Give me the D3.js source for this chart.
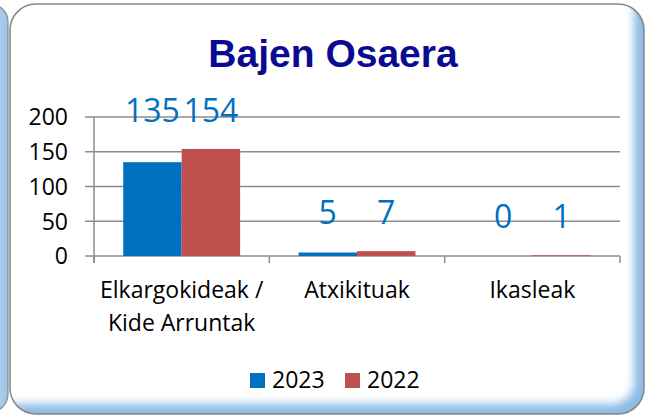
<!DOCTYPE html>
<html lang="eu">
<head>
<meta charset="UTF-8">
<title>Bajen Osaera</title>
<script src="https://d3js.org/d3.v7.min.js"></script>
<style>
    body { margin: 0; background: #fff; }
    svg { display: block; }
    text { font-family: "Open Sans", "Liberation Sans", sans-serif; }
</style>
</head>
<body>
<svg id="chart"></svg>
<script>
    // data
    const categories = ["Elkargokideak / Kide Arruntak", "Atxikituak", "Ikasleak"];
    const categoryLines = [["Elkargokideak /", "Kide Arruntak"], ["Atxikituak"], ["Ikasleak"]];
    const seriesNames = ["2023", "2022"];
    const values2023 = [135, 5, 0];
    const values2022 = [154, 7, 1];
    const yTicks = [0, 50, 100, 150, 200];
    const colors = ["#0070c0", "#c0504d"];

    const width = 649, height = 419;
    const svg = d3.select("#chart").attr("width", width).attr("height", height);
    const defs = svg.append("defs");

    // ---- card background ----
    const stripGrad = defs.append("linearGradient").attr("id", "strip").attr("x1", 0).attr("x2", 1);
    stripGrad.append("stop").attr("offset", "0%").attr("stop-color", "#e6f0fa");
    stripGrad.append("stop").attr("offset", "100%").attr("stop-color", "#9cc5e9");

    // left neighbour card edge
    svg.append("rect")
        .attr("x", -40).attr("y", 4).attr("width", 48).attr("height", 408)
        .attr("rx", 18).attr("fill", "url(#strip)")
        .attr("stroke", "#8a8a8a").attr("stroke-width", 1.2);

    const card = { x: 10, y: 4, w: 634, h: 410, r: 26 };
    defs.append("clipPath").attr("id", "cardClip")
        .append("rect")
        .attr("x", card.x).attr("y", card.y).attr("width", card.w).attr("height", card.h)
        .attr("rx", card.r);
    defs.append("filter").attr("id", "soft")
        .attr("x", "-10%").attr("y", "-10%").attr("width", "120%").attr("height", "120%")
        .append("feGaussianBlur").attr("stdDeviation", 4);

    const cardG = svg.append("g").attr("clip-path", "url(#cardClip)");
    cardG.append("rect")
        .attr("x", card.x).attr("y", card.y).attr("width", card.w).attr("height", card.h)
        .attr("fill", "#8cbbe6");
    cardG.append("rect")
        .attr("x", -20).attr("y", -20)
        .attr("width", card.x + card.w - 10 + 20).attr("height", card.y + card.h - 10 + 20)
        .attr("rx", 22)
        .attr("fill", "#fff").attr("filter", "url(#soft)");
    svg.append("rect")
        .attr("x", card.x).attr("y", card.y).attr("width", card.w).attr("height", card.h)
        .attr("rx", card.r).attr("fill", "none")
        .attr("stroke", "#858585").attr("stroke-width", 1.5);

    // ---- title ----
    svg.append("text")
        .attr("x", 333).attr("y", 67)
        .attr("text-anchor", "middle")
        .style("font-family", "'Liberation Sans', Arial, sans-serif")
        .style("font-weight", "bold").style("font-size", "39px")
        .attr("fill", "#0b0b92")
        .text("Bajen Osaera");

    // ---- scales ----
    const plot = { left: 94, right: 620, top: 117, bottom: 256 };
    const x = d3.scaleBand().domain(categories).range([plot.left, plot.right]).padding(0);
    const x1 = d3.scaleBand().domain(seriesNames)
        .range([x.bandwidth() / 6, x.bandwidth() * 5 / 6]).padding(0);
    const y = d3.scaleLinear().domain([0, 200]).range([plot.bottom, plot.top]);

    const grid = "#8c8c8c";

    // gridlines
    svg.append("g").selectAll("line").data(yTicks).join("line")
        .attr("x1", plot.left - 9).attr("x2", plot.right)
        .attr("y1", d => y(d)).attr("y2", d => y(d))
        .attr("stroke", grid).attr("stroke-width", 1.5);

    // y axis line
    svg.append("line")
        .attr("x1", plot.left).attr("x2", plot.left)
        .attr("y1", plot.top).attr("y2", plot.bottom + 7)
        .attr("stroke", grid).attr("stroke-width", 1.5);

    // x category ticks
    const bounds = categories.map(c => x(c)).concat([x(categories[categories.length - 1]) + x.bandwidth()]);
    svg.append("g").selectAll("line").data(bounds).join("line")
        .attr("x1", d => d).attr("x2", d => d)
        .attr("y1", plot.bottom).attr("y2", plot.bottom + 7)
        .attr("stroke", grid).attr("stroke-width", 1.5);

    // y tick labels
    svg.append("g").selectAll("text").data(yTicks).join("text")
        .attr("x", 68).attr("y", d => y(d))
        .attr("dy", "0.36em")
        .attr("text-anchor", "end")
        .style("font-size", "23px").attr("fill", "#000")
        .text(d => d);

    // ---- bars ----
    const rows = categories.map((c, i) => ({
        cat: c,
        vals: [
            { key: seriesNames[0], v: values2023[i], color: colors[0] },
            { key: seriesNames[1], v: values2022[i], color: colors[1] }
        ]
    }));

    const groups = svg.append("g").selectAll("g").data(rows).join("g")
        .attr("transform", d => `translate(${x(d.cat)},0)`);

    groups.selectAll("rect").data(d => d.vals).join("rect")
        .attr("x", d => x1(d.key))
        .attr("width", x1.bandwidth())
        .attr("y", d => y(d.v))
        .attr("height", d => plot.bottom - y(d.v))
        .attr("fill", d => d.color);

    // value labels, aligned per group above the tallest bar
    groups.each(function (d) {
        const top = y(d3.max(d.vals, v => v.v));
        d3.select(this).selectAll("text.val").data(d.vals).join("text")
            .attr("class", "val")
            .attr("x", v => x1(v.key) + x1.bandwidth() / 2)
            .attr("y", top - 27)
            .attr("text-anchor", "middle")
            .style("font-size", "32px")
            .attr("fill", "#0070c0")
            .text(v => v.v);
    });

    // category labels
    svg.append("g").selectAll("text").data(categories).join("text")
        .attr("x", d => x(d) + x.bandwidth() / 2)
        .attr("y", 298)
        .attr("text-anchor", "middle")
        .style("font-size", "23px").attr("fill", "#000")
        .each(function (d, i) {
            d3.select(this).selectAll("tspan").data(categoryLines[i]).join("tspan")
                .attr("x", x(d) + x.bandwidth() / 2)
                .attr("dy", (t, j) => j === 0 ? 0 : 33)
                .text(t => t);
        });

    // ---- legend ----
    const legend = svg.append("g").attr("transform", "translate(250,373)");
    const legendX = [0, 95];
    seriesNames.forEach((name, i) => {
        const g = legend.append("g").attr("transform", `translate(${legendX[i]},0)`);
        g.append("rect").attr("width", 15).attr("height", 15).attr("fill", colors[i]);
        g.append("text").attr("x", 22).attr("y", 15)
            .style("font-size", "23px").attr("fill", "#000")
            .text(name);
    });
</script>
</body>
</html>
